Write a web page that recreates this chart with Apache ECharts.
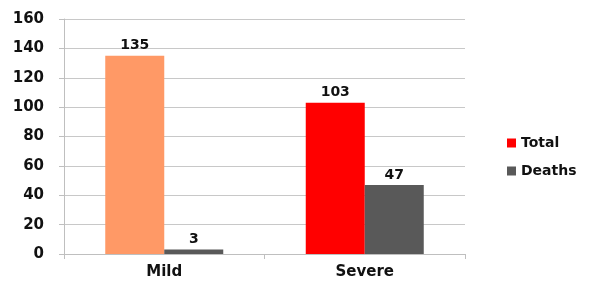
<!DOCTYPE html>
<html>
<head>
<meta charset="utf-8">
<script src="https://cdn.jsdelivr.net/npm/echarts@6/dist/echarts.min.js"></script>
<style>
html,body{margin:0;padding:0;background:#fff;}
#main{width:590px;height:282px;}
</style>
</head>
<body>
<div id="main"></div>
<script>
// data
var categories = ['Mild', 'Severe'];
var totalValues = [135, 103];
var deathValues = [3, 47];
var totalColors = ['#FF9966', '#FF0000'];
var yTicks = { min: 0, max: 160, interval: 20 };

var chart = echarts.init(document.getElementById('main'));
var labelFont = { fontFamily: 'DejaVu Sans', fontWeight: 'bold', color: '#111', fontSize: 14 };

var option = {
    animation: false,
    grid: { left: 64, right: 125, top: 19, bottom: 28 },
    legend: {
        orient: 'vertical',
        left: 502,
        top: 131,
        icon: 'rect',
        itemWidth: 9,
        itemHeight: 9,
        itemGap: 14,
        textStyle: { fontFamily: 'DejaVu Sans', fontWeight: 'bold', fontSize: 14, color: '#111' },
        data: [
            { name: 'Total', itemStyle: { color: '#FF0000' } },
            { name: 'Deaths', itemStyle: { color: '#595959' } }
        ]
    },
    xAxis: {
        type: 'category',
        data: categories,
        axisLine: { lineStyle: { color: '#bfbfbf' } },
        axisTick: { show: true, length: 5, lineStyle: { color: '#bfbfbf' } },
        axisLabel: { fontFamily: 'DejaVu Sans', fontWeight: 'bold', fontSize: 15, color: '#111', margin: 11 }
    },
    yAxis: {
        type: 'value',
        min: yTicks.min,
        max: yTicks.max,
        interval: yTicks.interval,
        axisLine: { show: true, lineStyle: { color: '#bfbfbf' } },
        axisTick: { show: true, length: 5, lineStyle: { color: '#bfbfbf' } },
        splitLine: { lineStyle: { color: '#c8c8c8' } },
        axisLabel: { fontFamily: 'DejaVu Sans', fontWeight: 'bold', fontSize: 15, color: '#111', margin: 20 }
    },
    series: [
        {
            name: 'Total',
            type: 'bar',
            barWidth: 59,
            barGap: '0%',
            data: totalValues.map(function (v, i) {
                return { value: v, itemStyle: { color: totalColors[i] } };
            }),
            label: Object.assign({ show: true, position: 'top', distance: 3 }, labelFont)
        },
        {
            name: 'Deaths',
            type: 'bar',
            barWidth: 59,
            itemStyle: { color: '#595959' },
            data: deathValues,
            label: Object.assign({ show: true, position: 'top', distance: 3 }, labelFont)
        }
    ]
};
chart.setOption(option);
</script>
</body>
</html>
